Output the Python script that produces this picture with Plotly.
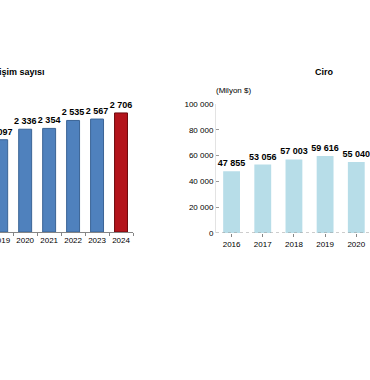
import plotly.graph_objects as go

# Left chart: Girişim sayısı
left_years = ["2019", "2020", "2021", "2022", "2023", "2024"]
left_values = [2097, 2336, 2354, 2535, 2567, 2706]
left_colors = ["#4f81bd"] * 5 + ["#b3141c"]
left_lines = ["#3b6496"] * 5 + ["#6e0a0e"]

# Right chart: Ciro (Milyon $)
right_years = ["2016", "2017", "2018", "2019", "2020"]
right_values = [47855, 53056, 57003, 59616, 55040]
right_ticks = [0, 20000, 40000, 60000, 80000, 100000]

W, H = 370, 380
FONT = "Arial, Liberation Sans, sans-serif"

def px_x(p):
    return p / W

def px_y(p):
    return (H - p) / H

fig = go.Figure()

fig.add_trace(go.Bar(
    x=left_years, y=left_values, xaxis="x", yaxis="y",
    marker=dict(color=left_colors, line=dict(color=left_lines, width=1)),
    text=left_values, texttemplate="%{y:,d}", textposition="outside",
    cliponaxis=False, constraintext="none",
    textfont=dict(family=FONT, size=9, color="#000000", weight="bold"),
    hoverinfo="skip",
))

fig.add_trace(go.Bar(
    x=right_years, y=right_values, xaxis="x2", yaxis="y2",
    marker=dict(color="#b7dde8", line=dict(width=0)),
    text=right_values, texttemplate="%{y:,d}", textposition="outside",
    cliponaxis=False, constraintext="none",
    textfont=dict(family=FONT, size=9, color="#000000", weight="bold"),
    hoverinfo="skip",
))

fig.update_layout(
    width=W, height=H,
    margin=dict(l=0, r=0, t=0, b=0, autoexpand=False),
    paper_bgcolor="white", plot_bgcolor="white",
    showlegend=False,
    separators=". ",
    bargap=0.46,
    font=dict(family=FONT, size=8, color="#000000"),
    xaxis=dict(
        domain=[0, px_x(133)], anchor="y", type="category",
        range=[-0.05, 5.5], automargin=False,
        showline=True, linecolor="#868686", linewidth=1,
        ticks="outside", tickson="boundaries", ticklen=3, tickcolor="#868686",
        showgrid=False, tickangle=0, tickfont=dict(size=8, family=FONT),
    ),
    yaxis=dict(
        domain=[px_y(232), px_y(100)], anchor="x", automargin=False,
        range=[0, 3000], visible=False, showgrid=False,
    ),
    xaxis2=dict(
        domain=[px_x(216), 1], anchor="y2", type="category",
        range=[-0.5, 4.44], automargin=False,
        showline=False,
        ticks="outside", ticklen=3, tickcolor="#868686",
        showgrid=False, tickangle=0, tickfont=dict(size=8, family=FONT),
    ),
    yaxis2=dict(
        domain=[px_y(233), px_y(104)], anchor="x2", automargin=False,
        range=[0, 100000], tickvals=right_ticks, tickformat=",d",
        showline=True, linecolor="#e3e3e3", linewidth=1,
        ticks="inside", ticklen=3, tickcolor="#9a9a9a",
        showgrid=False, zeroline=False,
        tickfont=dict(size=8, family=FONT),
    ),
)

# dotted baseline of right chart
fig.add_shape(type="line", xref="x2 domain", yref="y2", x0=0, x1=1, y0=0, y1=0,
              line=dict(color="#9a9a9a", width=1, dash="dot"))

fig.add_annotation(text="<b>Girişim sayısı</b>", xref="paper", yref="paper",
                   x=px_x(47), y=px_y(72), xanchor="right", yanchor="middle",
                   showarrow=False, font=dict(size=9, family=FONT))
fig.add_annotation(text="<b>Ciro</b>", xref="paper", yref="paper",
                   x=px_x(324), y=px_y(72), xanchor="center", yanchor="middle",
                   showarrow=False, font=dict(size=9, family=FONT))
fig.add_annotation(text="(Milyon $)", xref="paper", yref="paper",
                   x=px_x(214), y=px_y(91), xanchor="left", yanchor="middle",
                   showarrow=False, font=dict(size=8, family=FONT))

fig.write_html("out.html", config={"displayModeBar": False},
               post_script="document.body.style.margin='0';document.body.style.overflow='hidden';")
